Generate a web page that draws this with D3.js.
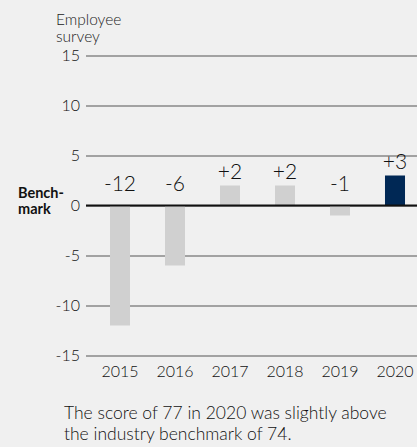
<!DOCTYPE html>
<html>
<head>
<meta charset="utf-8">
<script src="https://cdn.jsdelivr.net/npm/d3@7"></script>
<style>
  body { margin: 0; background: #f0f0f0; }
  svg { display: block; font-family: Lato, "Open Sans", sans-serif; }
</style>
</head>
<body>
<svg id="chart"></svg>
<script>
// data
const years = ['2015', '2016', '2017', '2018', '2019', '2020'];
const diffs = [-12, -6, 2, 2, -1, 3];
const valueLabels = ['-12', '-6', '+2', '+2', '-1', '+3'];
const yTicks = [-15, -10, -5, 0, 5, 10, 15];
const highlightYear = '2020';

const width = 417, height = 447;
const fontFamily = 'Lato, "Open Sans", sans-serif';

const svg = d3.select('#chart')
    .attr('width', width)
    .attr('height', height);

//scales
const xScale = d3.scaleBand()
    .domain(years)
    .range([92.5, 422.5])
    .paddingInner(0.636)
    .paddingOuter(0.318);

const yScale = d3.scaleLinear()
    .domain([-15, 15])
    .range([355.5, 55.5]);

const gridLeft = 86, gridRight = width;

// gridlines + tick labels
const yAxis = d3.axisLeft(yScale)
    .tickValues(yTicks)
    .tickSize(-(gridRight - gridLeft))
    .tickPadding(6)
    .tickFormat(d => d);

const yAxisG = svg.append('g')
    .attr('class', 'axis y-axis')
    .attr('transform', `translate(${gridLeft},0)`)
    .call(yAxis)
    .attr('font-family', fontFamily);

yAxisG.select('.domain').remove();
yAxisG.selectAll('.tick line')
    .attr('stroke', '#555')
    .attr('stroke-width', 1);
yAxisG.selectAll('.tick text')
    .attr('fill', '#111')
    .style('font-size', '16px')
    .style('font-weight', 300);

// bars
svg.selectAll('.bar')
    .data(years)
  .join('rect')
    .attr('class', 'bar')
    .attr('x', d => xScale(d))
    .attr('width', xScale.bandwidth())
    .attr('y', (d, i) => yScale(Math.max(0, diffs[i])))
    .attr('height', (d, i) => Math.abs(yScale(diffs[i]) - yScale(0)))
    .attr('fill', d => d === highlightYear ? '#002855' : '#d0d0d0');

// zero / benchmark line
svg.append('line')
    .attr('x1', gridLeft)
    .attr('x2', gridRight)
    .attr('y1', yScale(0))
    .attr('y2', yScale(0))
    .attr('stroke', '#111')
    .attr('stroke-width', 2);

// value labels
svg.selectAll('.value-label')
    .data(years)
  .join('text')
    .attr('class', 'value-label')
    .attr('x', d => xScale(d) + xScale.bandwidth() / 2)
    .attr('y', (d, i) => diffs[i] > 0 ? yScale(diffs[i]) - 7 : yScale(0) - 15)
    .attr('text-anchor', 'middle')
    .attr('fill', '#111')
    .style('font-size', '21px')
    .style('font-weight', 300)
    .text((d, i) => valueLabels[i]);

// x labels
const xAxis = d3.axisBottom(xScale).tickSize(0).tickPadding(0);
const xAxisG = svg.append('g')
    .attr('class', 'axis x-axis')
    .attr('transform', `translate(0,366)`)
    .call(xAxis)
    .attr('font-family', fontFamily);
xAxisG.select('.domain').remove();
xAxisG.selectAll('.tick text')
    .attr('fill', '#111')
    .style('font-size', '16px')
    .style('font-weight', 300);

// titles
svg.append('text')
    .attr('x', 56)
    .attr('y', 25)
    .attr('fill', '#222')
    .style('font-size', '15.5px')
    .style('font-weight', 300)
    .text('Employee');
svg.append('text')
    .attr('x', 56)
    .attr('y', 42)
    .attr('fill', '#222')
    .style('font-size', '15.5px')
    .style('font-weight', 300)
    .text('survey');

svg.append('text')
    .attr('x', 18)
    .attr('y', 198)
    .attr('fill', '#111')
    .style('font-size', '14.5px')
    .style('font-weight', 'bold')
    .text('Bench-');
svg.append('text')
    .attr('x', 18)
    .attr('y', 214)
    .attr('fill', '#111')
    .style('font-size', '14.5px')
    .style('font-weight', 'bold')
    .text('mark');

// caption
svg.append('text')
    .attr('x', 64)
    .attr('y', 419)
    .attr('fill', '#111')
    .style('font-size', '17.5px')
    .style('font-weight', 300)
    .text('The score of 77 in 2020 was slightly above');
svg.append('text')
    .attr('x', 64)
    .attr('y', 440)
    .attr('fill', '#111')
    .style('font-size', '17.5px')
    .style('font-weight', 300)
    .text('the industry benchmark of 74.');
</script>
</body>
</html>
